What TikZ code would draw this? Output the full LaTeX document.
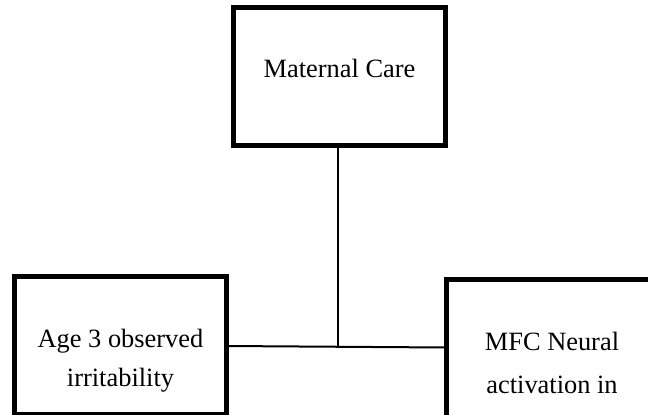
\documentclass[tikz,border=0pt]{standalone}
\usepackage{fontspec}
\setmainfont{Liberation Serif}
\usetikzlibrary{calc}
\begin{document}
\begin{tikzpicture}[x=1pt,y=-1pt,
  box/.style={draw=black,line width=5pt,minimum width=212pt,minimum height=138pt,inner sep=0pt,outer sep=0pt},
  txt/.style={anchor=base,inner sep=0pt,font=\fontsize{26.4}{39}\selectfont},
  link/.style={draw=black,line width=2pt}]
\useasboundingbox (0,0) rectangle (648,415);
\clip (0,0) rectangle (648,415);
\fill[white] (0,0) rectangle (648,415);
\node[box] (mat) at (339.5,76.5) {};
\node[box] (age) at (120.5,345.5) {};
\node[box] (mfc) at (552,348.5) {};
\node[txt] (mattxt) at (339.5,77) {Maternal Care};
\node[txt] (agetxt1) at (120.5,347) {Age 3 observed};
\node[txt] (agetxt2) at (120.5,386) {irritability};
\node[txt] (mfctxt1) at (552,350) {MFC Neural};
\node[txt] (mfctxt2) at (552,393) {activation in};
\coordinate (hl) at ([yshift=-0.5pt]age.east);
\coordinate (hr) at ([yshift=1pt]mfc.west);
\coordinate (j) at ($(hl)!0.509!(hr)$);
\draw[link] (hl) -- (hr);
\draw[link] (j |- mat.south) -- (j);
\end{tikzpicture}
\end{document}
